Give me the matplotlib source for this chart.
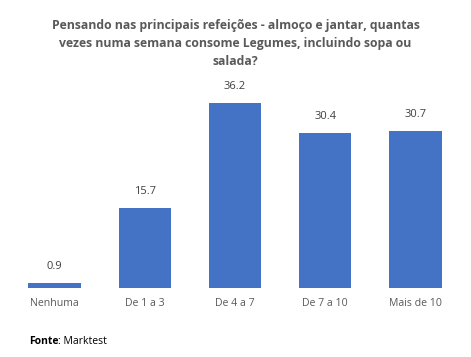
import matplotlib
matplotlib.use("Agg")
from matplotlib import pyplot as plt

categories = ['Nenhuma', 'De 1 a 3', 'De 4 a 7', 'De 7 a 10', 'Mais de 10']
values = [0.9, 15.7, 36.2, 30.4, 30.7]
title = ('Pensando nas principais refeições - almoço e jantar, quantas\n'
         'vezes numa semana consome Legumes, incluindo sopa ou\n'
         'salada?')

plt.rcParams['font.family'] = ['Open Sans', 'DejaVu Sans']

fig = plt.figure(figsize=(4.71, 3.57), dpi=100)
ax = fig.add_axes([9.5 / 471, 1 - 288 / 357, 451 / 471, 204 / 357])

x = range(len(categories))
ax.bar(x, values, width=0.58, color='#4472C4')
for xi, v in zip(x, values):
    ax.annotate(f'{v:.1f}', (xi, v), xytext=(0, 8), textcoords='offset points',
                ha='center', va='bottom', fontsize=8, color='#404040')

ax.set_xlim(-0.5, len(categories) - 0.5)
ax.set_ylim(0, 40)
ax.set_xticks(list(x))
ax.set_xticklabels(categories, fontsize=7.6, color='#595959')
ax.tick_params(axis='x', length=0, pad=7)
ax.set_yticks([])
for s in ax.spines.values():
    s.set_visible(False)

fig.text(0.5, 1 - 19 / 357, title, ha='center', va='top', fontsize=8.8,
         fontweight='bold', color='#595959', linespacing=1.5,
         multialignment='center')

# "Fonte" in bold, then the rest in normal weight
y_src = 1 - 341 / 357
t = fig.text(29 / 471, y_src, 'Fonte', ha='left', va='center',
             fontsize=7.5, fontweight='bold', color='black')
fig.canvas.draw()
bb = t.get_window_extent()
fig.text(bb.x1 / fig.bbox.width, y_src, ': Marktest', ha='left',
         va='center', fontsize=7.5, color='black')

fig.savefig('out.png', dpi=100)
